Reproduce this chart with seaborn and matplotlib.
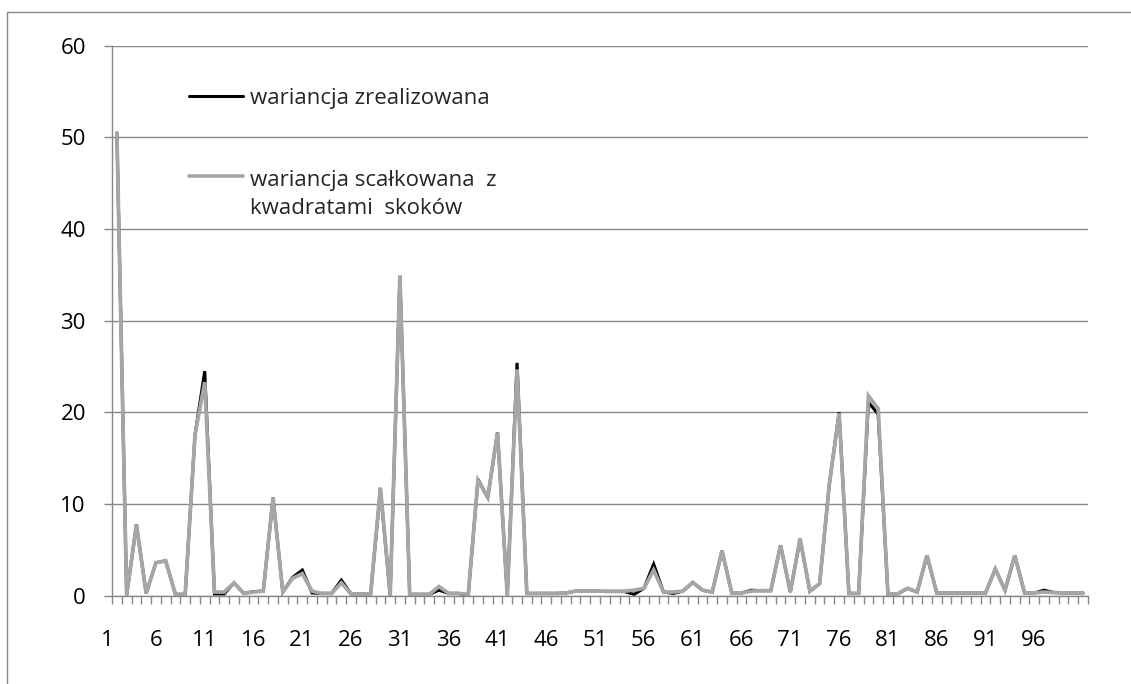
import numpy as np
import pandas as pd
import matplotlib
matplotlib.use("Agg")
import matplotlib.pyplot as plt
import matplotlib.transforms as mtransforms
from matplotlib.lines import Line2D
import seaborn as sns

# daily observations 1..100
days = list(range(1, 101))

# realized variance
realized = [50.5, 0.05, 7.75, 0.25, 3.6, 3.8, 0.15, 0.15, 17.5, 24.5,
            0.2, 0.2, 1.4, 0.25, 0.45, 0.5, 10.7, 0.4, 2.0, 2.8,
            0.3, 0.25, 0.25, 1.7, 0.2, 0.2, 0.2, 11.6, 0.05, 34.9,
            0.15, 0.15, 0.15, 0.6, 0.25, 0.25, 0.05, 12.7, 10.7, 17.8,
            0.05, 25.4, 0.25, 0.25, 0.25, 0.25, 0.3, 0.5, 0.5, 0.5,
            0.45, 0.45, 0.45, 0.15, 0.8, 3.45, 0.4, 0.25, 0.5, 1.45,
            0.6, 0.4, 4.9, 0.3, 0.3, 0.6, 0.55, 0.55, 5.5, 0.4,
            6.2, 0.5, 1.3, 12.2, 20.0, 0.25, 0.25, 21.1, 19.8, 0.2,
            0.2, 0.8, 0.4, 4.4, 0.3, 0.3, 0.3, 0.3, 0.3, 0.3,
            2.9, 0.6, 4.4, 0.3, 0.3, 0.6, 0.35, 0.3, 0.3, 0.3]

# integrated variance plus squared jumps
integrated = [50.5, 0.05, 7.75, 0.25, 3.6, 3.8, 0.15, 0.15, 17.5, 23.3,
              0.4, 0.4, 1.4, 0.25, 0.4, 0.5, 10.7, 0.4, 1.9, 2.4,
              0.5, 0.25, 0.25, 1.4, 0.2, 0.2, 0.2, 11.8, 0.05, 34.9,
              0.15, 0.15, 0.15, 1.0, 0.25, 0.25, 0.15, 12.6, 10.7, 17.8,
              0.05, 24.7, 0.25, 0.25, 0.25, 0.25, 0.3, 0.5, 0.5, 0.5,
              0.5, 0.5, 0.5, 0.6, 0.8, 2.8, 0.4, 0.4, 0.5, 1.45,
              0.6, 0.4, 4.9, 0.3, 0.3, 0.5, 0.55, 0.55, 5.5, 0.4,
              6.2, 0.5, 1.3, 12.2, 19.9, 0.25, 0.25, 21.8, 20.4, 0.2,
              0.2, 0.8, 0.4, 4.4, 0.3, 0.3, 0.3, 0.3, 0.3, 0.3,
              2.9, 0.6, 4.4, 0.3, 0.3, 0.4, 0.35, 0.3, 0.3, 0.3]

series_names = ["wariancja zrealizowana",
                "wariancja scałkowana  z\nkwadratami  skoków"]
series_colors = ["#000000", "#A6A6A6"]
series_widths = [2.2, 2.7]

x_tick_labels = list(range(1, 97, 5))
y_ticks = list(range(0, 61, 10))

df = pd.DataFrame({
    "dzień": days * 2,
    "wartość": realized + integrated,
    "seria": [series_names[0]] * len(days) + [series_names[1]] * len(days),
})

sns.set_style("white")
plt.rcParams["font.family"] = ["Open Sans", "DejaVu Sans"]

GRID = "#878787"
FS = 16

fig = plt.figure(figsize=(11.31, 6.84), dpi=100)
ax = fig.add_axes([112 / 1131, 1 - 595.7 / 684, (1088 - 112) / 1131, (595.7 - 45.7) / 684])

sns.lineplot(data=df, x="dzień", y="wartość", hue="seria",
             hue_order=series_names,
             palette=dict(zip(series_names, series_colors)),
             ax=ax, legend=False, solid_joinstyle="miter")
for line, lw in zip(ax.get_lines(), series_widths):
    line.set_linewidth(lw)

ax.set_xlim(0.5, len(days) + 0.5)
ax.set_ylim(0, 60)
ax.set_xlabel("")
ax.set_ylabel("")

# horizontal gridlines
ax.set_yticks(y_ticks)
ax.yaxis.grid(True, color=GRID, linewidth=1.0)
ax.xaxis.grid(False)
ax.set_axisbelow(True)
ax.tick_params(axis="y", which="major", left=True, length=5.8, width=1.0,
               color=GRID, pad=13, labelsize=FS, labelcolor="black")

# category axis: tick marks between categories, labels every fifth day
ax.set_xticks(x_tick_labels)
ax.set_xticklabels([str(v) for v in x_tick_labels])
ax.set_xticks(np.arange(0.5, len(days) + 1, 1.0), minor=True)
ax.tick_params(axis="x", which="major", bottom=True, length=0, pad=25,
               labelsize=FS, labelcolor="black")
ax.tick_params(axis="x", which="minor", bottom=True, length=5.8, width=1.0,
               color=GRID)
shift = mtransforms.ScaledTranslation(-10 / 100, 0, fig.dpi_scale_trans)
for lab in ax.get_xticklabels():
    lab.set_transform(lab.get_transform() + shift)

for side in ("top", "right"):
    ax.spines[side].set_visible(False)
for side in ("left", "bottom"):
    ax.spines[side].set_color(GRID)
    ax.spines[side].set_linewidth(1.0)

# legend inside the plot area
handles = [Line2D([], [], color=c, linewidth=lw)
           for c, lw in zip(series_colors, series_widths)]
leg = ax.legend(handles, series_names, loc="upper left",
                bbox_to_anchor=(189 / 1131, 1 - 88 / 684),
                bbox_transform=fig.transFigure, frameon=False,
                fontsize=FS, handlelength=2.45, handletextpad=0.28,
                labelspacing=2.75, borderpad=0, borderaxespad=0)
texts = leg.get_texts()
texts[1].set_linespacing(1.43)
# put the second handle level with the first line of its two-line label
hl = leg.get_lines()[1]
hl.set_ydata(np.asarray(hl.get_ydata()) + 13.5)

# outer chart frame
frame_kw = dict(color=GRID, linewidth=1.0, transform=fig.transFigure)
fig.add_artist(Line2D([7 / 1131, 7 / 1131], [0, 1 - 12 / 684], **frame_kw))
fig.add_artist(Line2D([7 / 1131, 1], [1 - 12 / 684, 1 - 12 / 684], **frame_kw))

fig.savefig("out.png", dpi=100)
